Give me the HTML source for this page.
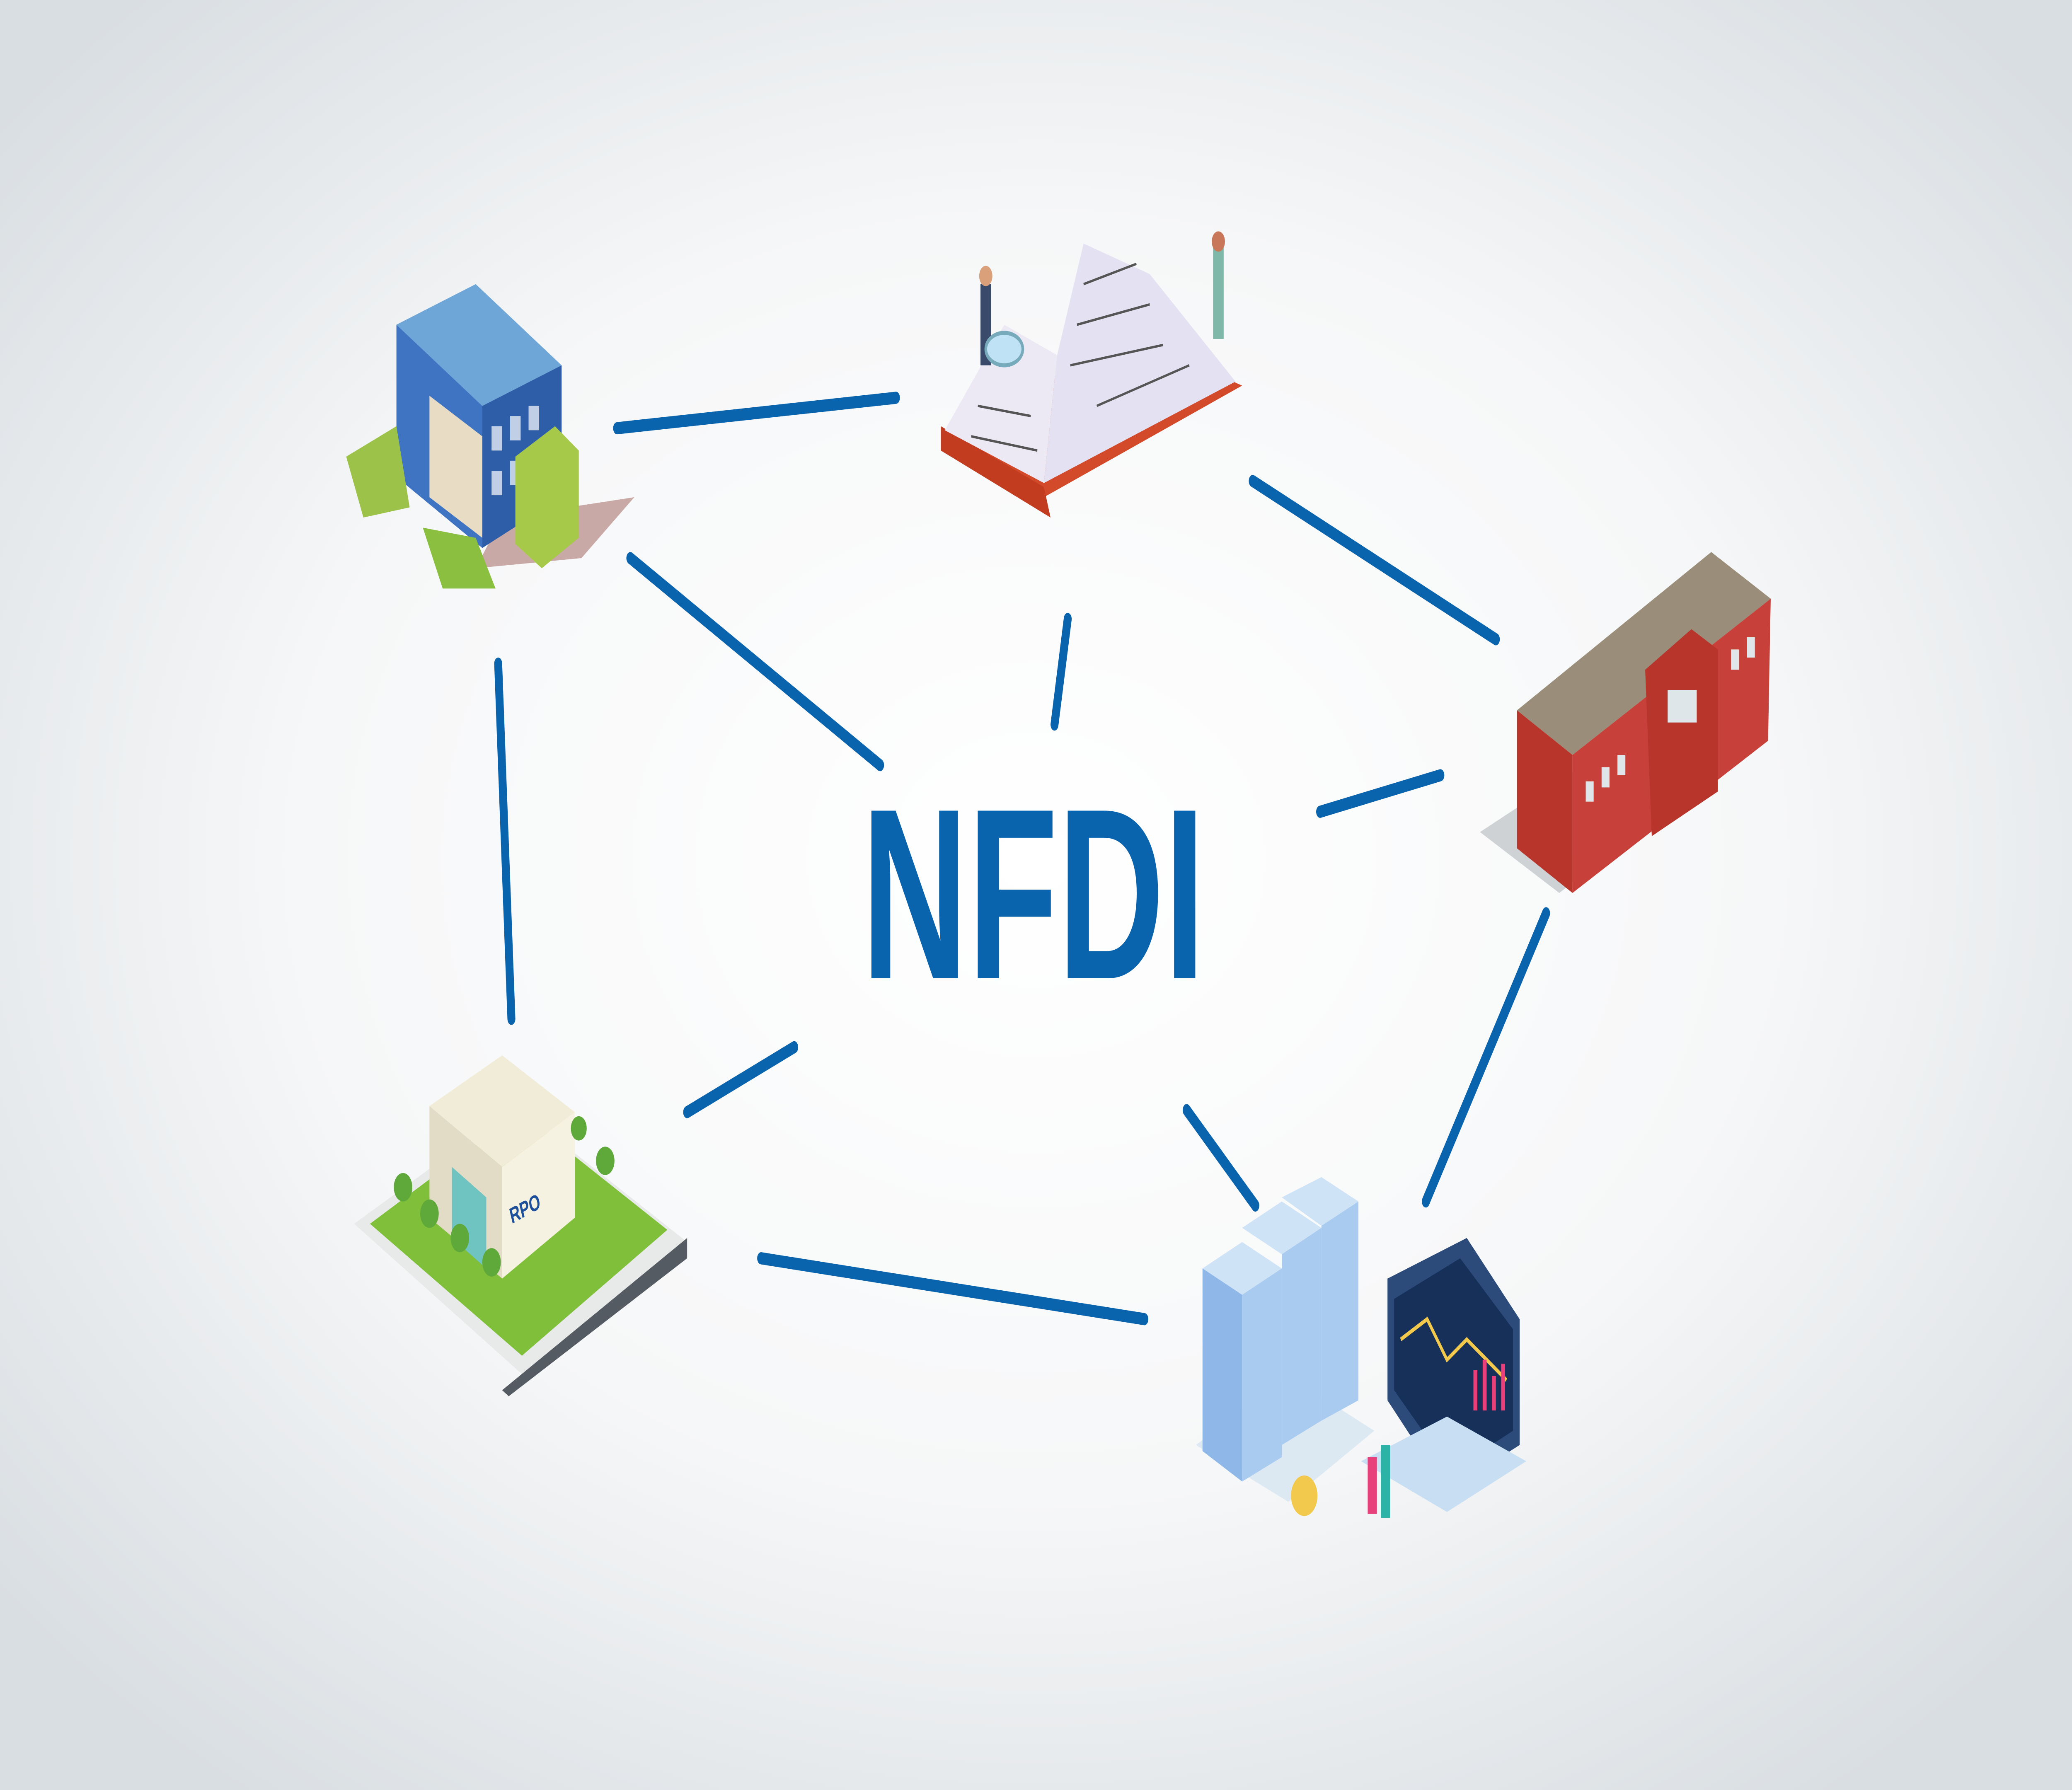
<!DOCTYPE html>
<html><head><meta charset="utf-8">
<style>
html,body{margin:0;padding:0;width:100%;height:100%;overflow:hidden;}
svg{display:block;width:100vw;height:100vh;}
</style></head>
<body>
<svg viewBox="0 0 1568 882" preserveAspectRatio="none" xmlns="http://www.w3.org/2000/svg">
<defs>
<radialGradient id="bg" cx="50%" cy="48%" r="65%">
<stop offset="0" stop-color="#ffffff"/>
<stop offset="0.55" stop-color="#f6f7f8"/>
<stop offset="1" stop-color="#d9dee2"/>
</radialGradient>
</defs>
<rect width="1568" height="882" fill="url(#bg)"/>

<g stroke="#0a64ad" stroke-width="6" stroke-linecap="round" fill="none">
<line x1="467" y1="211" x2="678" y2="196"/>
<line x1="477" y1="275" x2="666" y2="377"/>
<line x1="377" y1="327" x2="387" y2="502"/>
<line x1="808" y1="305" x2="798" y2="357"/>
<line x1="948" y1="237" x2="1132" y2="315"/>
<line x1="999" y1="400" x2="1090" y2="382"/>
<line x1="1170" y1="450" x2="1079" y2="592"/>
<line x1="898" y1="547" x2="950" y2="594"/>
<line x1="520" y1="548" x2="601" y2="516"/>
<line x1="576" y1="620" x2="866" y2="650"/>
</g>

<text x="652" y="482" font-family="Liberation Sans, sans-serif" font-weight="bold" font-size="120" fill="#0a64ad" textLength="260" lengthAdjust="spacingAndGlyphs">NFDI</text>

<g>
<polygon points="380,255 480,245 440,275 360,280" fill="#c9a9a6"/>
<polygon points="300,160 360,140 425,180 365,200" fill="#6fa6d8"/>
<polygon points="300,160 365,200 365,270 300,235" fill="#3f74c2"/>
<polygon points="365,200 425,180 425,245 365,270" fill="#2e5ea8"/>
<polygon points="325,195 365,215 365,265 325,245" fill="#e8dcc4"/>
<g fill="#ffffff" opacity="0.7">
<rect x="372" y="210" width="8" height="12"/><rect x="386" y="205" width="8" height="12"/><rect x="400" y="200" width="8" height="12"/>
<rect x="372" y="232" width="8" height="12"/><rect x="386" y="227" width="8" height="12"/><rect x="400" y="222" width="8" height="12"/>
</g>
<polygon points="390,225 420,210 438,222 438,265 410,280 390,268" fill="#a6c94a"/>
<polygon points="262,225 300,210 310,250 275,255" fill="#9cc24a"/>
<polygon points="320,260 360,265 375,290 335,290" fill="#8bbf3f"/>
</g>

<g>
<polygon points="712,215 790,245 940,190 855,165" fill="#d24a2a"/>
<polygon points="712,210 790,240 795,255 712,222" fill="#c23d20"/>
<polygon points="715,212 790,238 800,175 760,160" fill="#ece9f5"/>
<polygon points="790,238 935,188 870,135 820,120 800,175" fill="#e4e2f2"/>
<g stroke="#555" stroke-width="1.2">
<line x1="820" y1="140" x2="860" y2="130"/><line x1="815" y1="160" x2="870" y2="150"/>
<line x1="810" y1="180" x2="880" y2="170"/><line x1="830" y1="200" x2="900" y2="180"/>
<line x1="740" y1="200" x2="780" y2="205"/><line x1="735" y1="215" x2="785" y2="222"/>
</g>
<rect x="742" y="140" width="8" height="40" fill="#3a4a6a"/><circle cx="746" cy="136" r="5" fill="#d9a07a"/>
<ellipse cx="760" cy="172" rx="14" ry="8" fill="#bfe3f5" stroke="#7ab" stroke-width="2"/>
<rect x="918" y="122" width="8" height="45" fill="#7fb7a8"/><circle cx="922" cy="119" r="5" fill="#c8775a"/>
</g>

<g>
<polygon points="1120,410 1180,440 1250,405 1190,380" fill="#cfd2d5"/>
<polygon points="1148,350 1295,272 1340,295 1190,372" fill="#9a8e7a"/>
<polygon points="1148,350 1190,372 1190,440 1148,418" fill="#b8352c"/>
<polygon points="1190,372 1340,295 1338,365 1190,440" fill="#c7403a"/>
<polygon points="1245,330 1280,310 1300,320 1300,390 1250,412" fill="#b8352c"/>
<g fill="#dfe6ea">
<rect x="1200" y="385" width="6" height="10"/><rect x="1212" y="378" width="6" height="10"/><rect x="1224" y="372" width="6" height="10"/>
<rect x="1310" y="320" width="6" height="10"/><rect x="1322" y="314" width="6" height="10"/>
<rect x="1262" y="340" width="22" height="16"/>
</g>
</g>

<g>
<polygon points="268,603 400,680 520,612 390,545" fill="#e8eaea"/>
<polygon points="280,603 395,668 505,606 393,548" fill="#7fbf3a"/>
<polygon points="380,685 520,610 520,620 385,688" fill="#555b63"/>
<polygon points="325,545 380,520 435,548 380,575" fill="#f1ecd8"/>
<polygon points="325,545 380,575 380,630 325,600" fill="#e2dcc6"/>
<polygon points="380,575 435,548 435,600 380,630" fill="#f6f2e2"/>
<polygon points="342,575 368,590 368,625 342,610" fill="#6fc3c0"/>
<text x="385" y="600" font-family="Liberation Sans, sans-serif" font-weight="bold" font-size="11" fill="#1d4f9a" transform="rotate(-20 395 595)">RPO</text>
<g fill="#5fa83a"><circle cx="305" cy="585" r="7"/><circle cx="325" cy="598" r="7"/><circle cx="348" cy="610" r="7"/><circle cx="372" cy="622" r="7"/><circle cx="458" cy="572" r="7"/><circle cx="438" cy="556" r="6"/></g>
</g>

<g>
<polygon points="905,712 975,740 1040,705 975,678" fill="#dce8f2"/>
<polygon points="910,625 940,612 970,625 940,638" fill="#cfe3f7"/>
<polygon points="910,625 940,638 940,730 910,715" fill="#8fb8e8"/>
<polygon points="940,638 970,625 970,718 940,730" fill="#a9cbf0"/>
<polygon points="940,605 970,592 1000,605 970,618" fill="#cfe3f7"/>
<polygon points="970,618 1000,605 1000,700 970,712" fill="#a9cbf0"/>
<polygon points="970,590 1000,580 1028,592 1000,604" fill="#cfe3f7"/>
<polygon points="1000,604 1028,592 1028,690 1000,700" fill="#a9cbf0"/>
<polygon points="1050,630 1110,610 1150,650 1150,712 1095,735 1050,690" fill="#2d4b7a"/>
<polygon points="1055,640 1105,620 1145,655 1145,705 1098,725 1055,685" fill="#16305a"/>
<polyline points="1060,660 1080,650 1095,670 1110,660 1140,680" stroke="#f2c94c" stroke-width="2" fill="none"/>
<g fill="#e8407a"><rect x="1115" y="675" width="3" height="20"/><rect x="1122" y="670" width="3" height="25"/><rect x="1129" y="678" width="3" height="17"/><rect x="1136" y="672" width="3" height="23"/></g>
<polygon points="1030,720 1095,745 1155,720 1095,698" fill="#c8def2"/>
<circle cx="987" cy="737" r="10" fill="#f2c94c"/>
<rect x="1035" y="718" width="7" height="28" fill="#e8407a"/><rect x="1045" y="712" width="7" height="36" fill="#2ab3a6"/>
</g>
</svg>
</body></html>
